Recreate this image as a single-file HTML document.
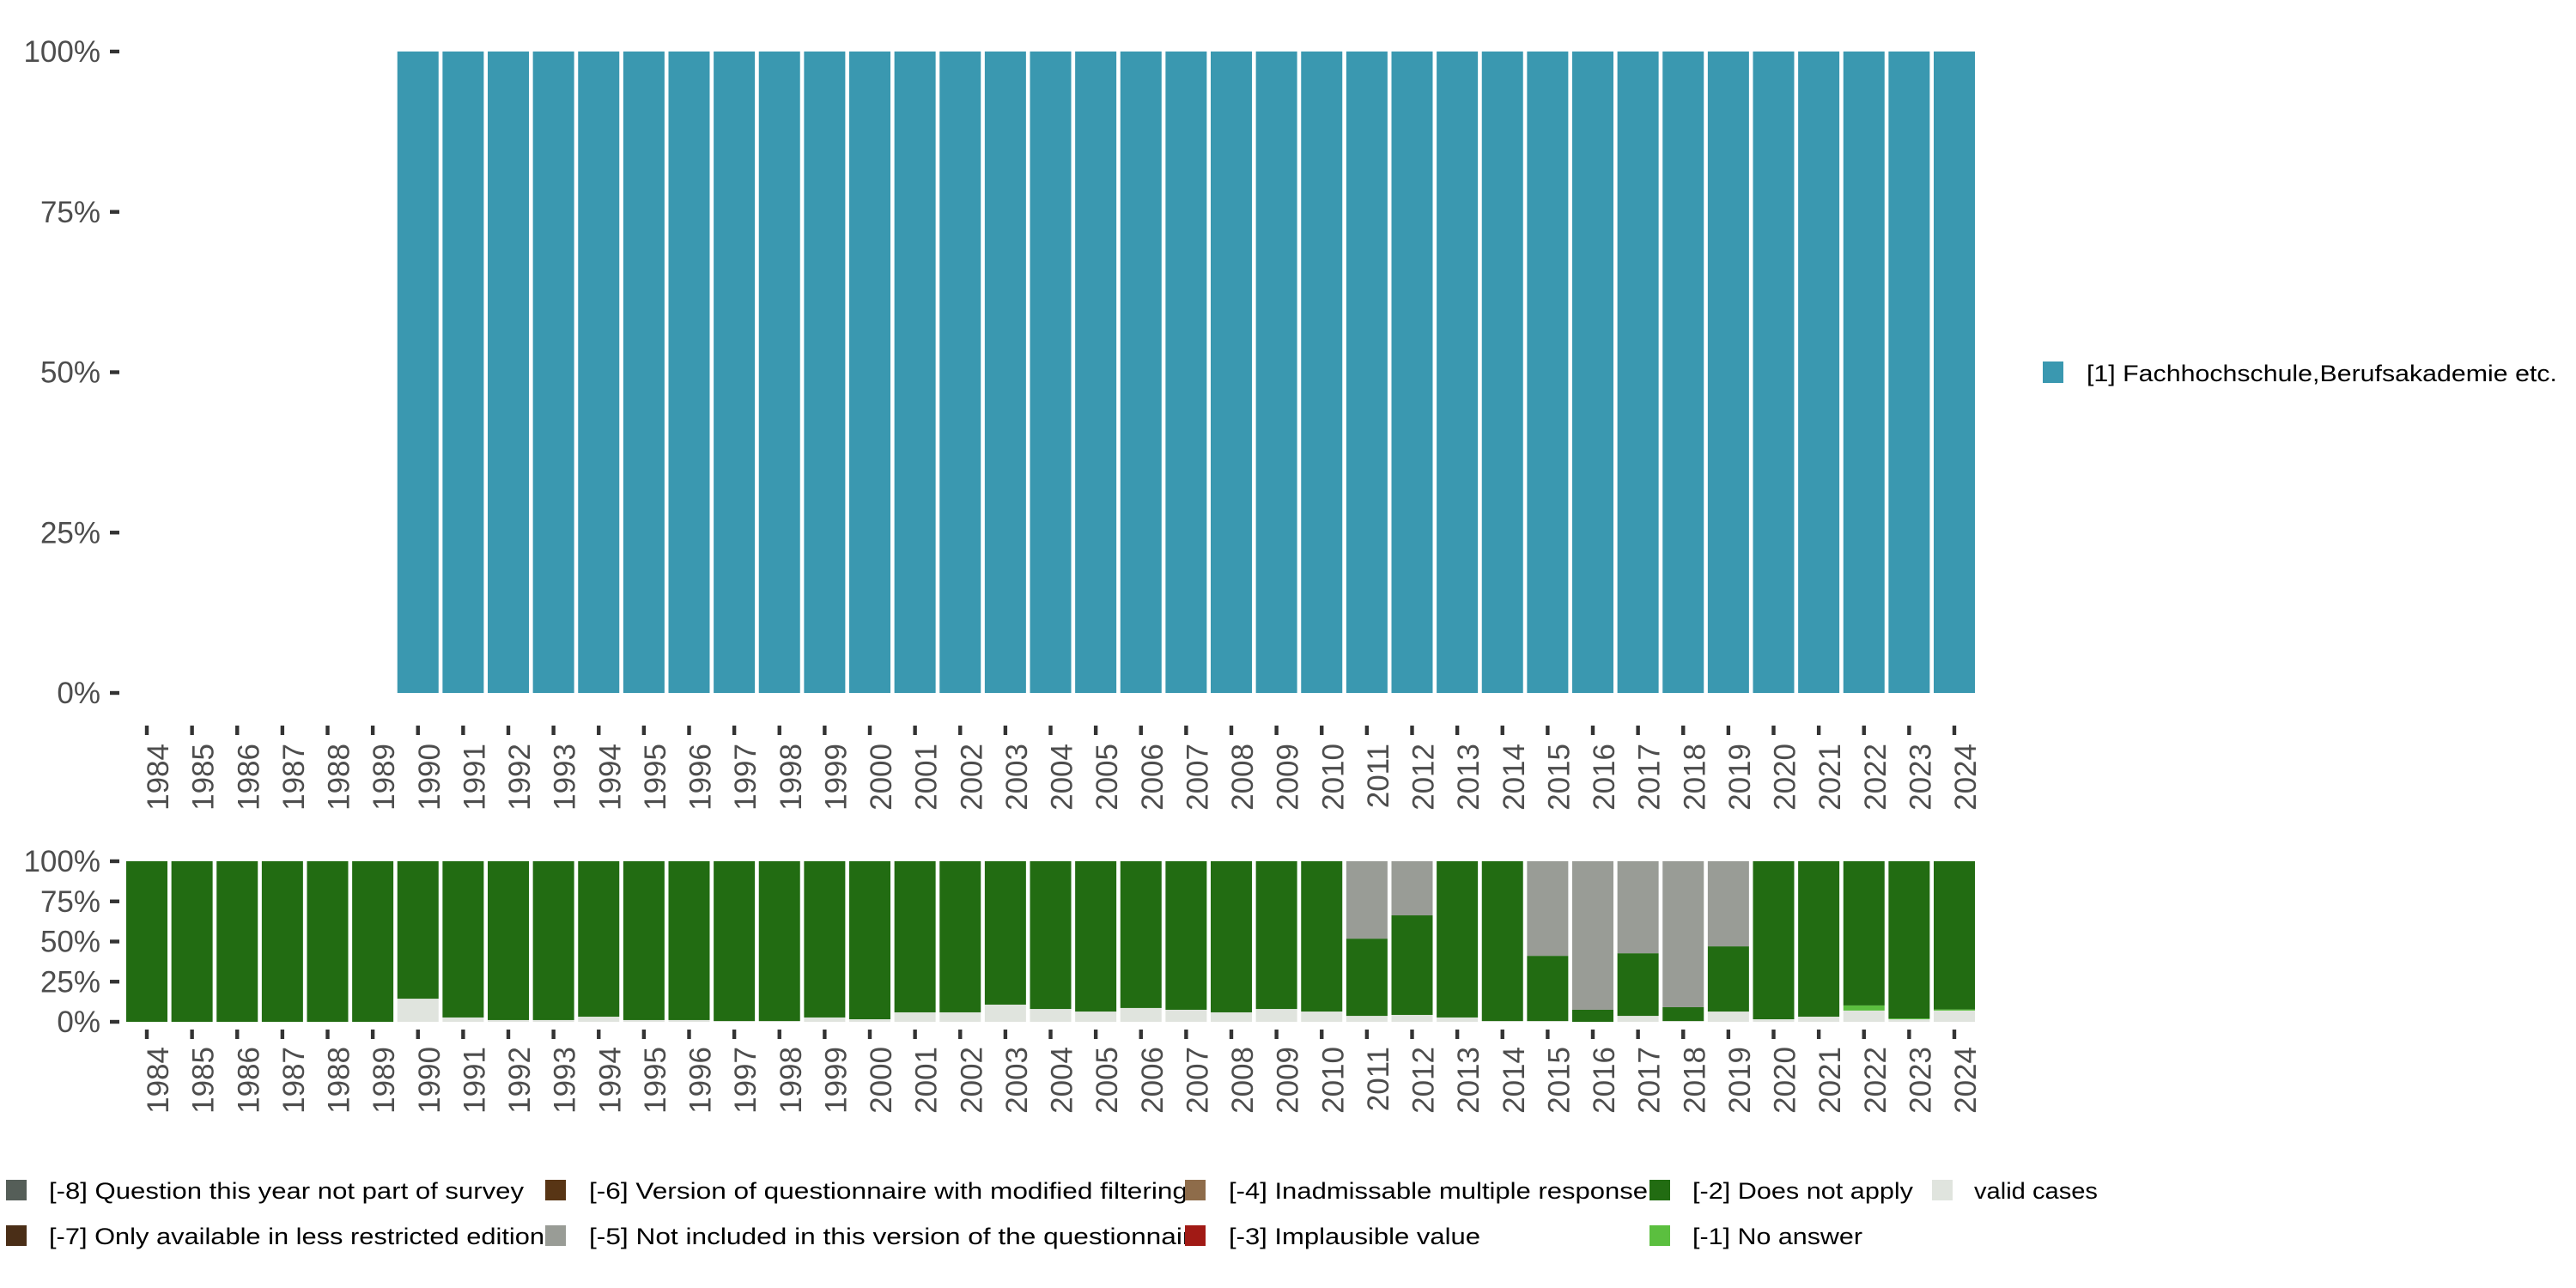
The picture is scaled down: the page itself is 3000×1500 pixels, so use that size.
<!DOCTYPE html>
<html><head><meta charset="utf-8"><style>
html,body{margin:0;padding:0;background:#fff;}
svg{display:block;font-family:"Liberation Sans",sans-serif;}
</style></head><body>
<svg id="chart" width="3000" height="1500" viewBox="0 0 3000 1500" xmlns="http://www.w3.org/2000/svg">
<g id="top-panel"></g>
<g id="bottom-panel"></g>
<g id="top-legend"></g>
<g id="bottom-legend"></g>
</svg>
<script>
const years = [1984,1985,1986,1987,1988,1989,1990,1991,1992,1993,1994,1995,1996,1997,1998,1999,2000,2001,2002,2003,2004,2005,2006,2007,2008,2009,2010,2011,2012,2013,2014,2015,2016,2017,2018,2019,2020,2021,2022,2023,2024];
// top chart: share of [1] Fachhochschule per year (null = no bar)
const topValues = [null,null,null,null,null,null,100,100,100,100,100,100,100,100,100,100,100,100,100,100,100,100,100,100,100,100,100,100,100,100,100,100,100,100,100,100,100,100,100,100,100];
// bottom chart series (percent), stacked from bottom: valid, no answer, does not apply, not included
const validCases = [0,0,0,0,0,0,14.4,2.7,1.1,1.1,3.2,1.1,1.1,0.5,0.5,2.7,1.6,5.9,5.9,10.7,8.0,6.4,8.6,7.5,5.9,8.0,6.4,3.7,4.3,2.7,0.5,0.5,0,3.7,0.5,6.4,1.6,3.2,7.0,1.6,7.0];
const noAnswer = [0,0,0,0,0,0,0,0,0,0,0,0,0,0,0,0,0,0,0,0,0,0,0,0,0,0,0,0,0,0,0,0,0,0,0,0,0,0,3.2,0.5,0.7];
const notIncluded = [0,0,0,0,0,0,0,0,0,0,0,0,0,0,0,0,0,0,0,0,0,0,0,0,0,0,0,48.2,33.7,0,0,58.9,92.5,57.3,90.9,53.0,0,0,0,0,0];
const yTicks = [0,25,50,75,100];
const yTickLabels = ["0%","25%","50%","75%","100%"];

const NS="http://www.w3.org/2000/svg";
function mk(tag, parent, attrs){const e=document.createElementNS(NS,tag);for(const k in attrs)e.setAttribute(k,attrs[k]);parent.appendChild(e);return e;}
const x0=171, step=52.625, bw=48;
function xc(i){return x0+i*step;}
function yTop(v){return 807-(v/100)*(807-60);}
function yBot(v){return 1190-(v/100)*(1190-1003);}
const C={valid:"#e0e4de",na:"#5bbf3f",dna:"#226c12",ni:"#999c96",blue:"#3a98b0"};

function axes(g, yf, tickYTop, labelY, prefix){
  yTicks.forEach((t,k)=>{
    const y=yf(t);
    const tk=mk('rect',g,{x:128,y:y-2.2,width:11,height:4.4,fill:'#333'});
    
    
    const tx=mk('text',g,{x:117,y:y+12,'text-anchor':'end','font-size':35,fill:'#4d4d4d'});
    tx.textContent=yTickLabels[k];
    
    
  });
  years.forEach((yr,i)=>{
    const x=xc(i);
    const tk=mk('rect',g,{x:x-2.2,y:tickYTop,width:4.4,height:11,fill:'#333'});
    
    
    const tx=mk('text',g,{x:0,y:0,'text-anchor':'end','font-size':35,fill:'#4d4d4d',transform:`translate(${x+25},${labelY}) rotate(-90)`});
    tx.textContent=String(yr);
    
    
  });
}

const gt=document.getElementById('top-panel');
years.forEach((yr,i)=>{
  const v=topValues[i]; if(v==null) return;
  const r=mk('rect',gt,{x:xc(i)-bw/2,y:yTop(v),width:bw,height:yTop(0)-yTop(v),fill:C.blue});
  
  
});
axes(gt,yTop,845,866,'top');

const gb=document.getElementById('bottom-panel');
years.forEach((yr,i)=>{
  const dna=100-validCases[i]-noAnswer[i]-notIncluded[i];
  const segs=[[validCases[i],C.valid,'valid'],[noAnswer[i],C.na,'no-answer'],[dna,C.dna,'does-not-apply'],[notIncluded[i],C.ni,'not-included']];
  let acc=0;
  segs.forEach(s=>{
    if(s[0]<=0){return;}
    const r=mk('rect',gb,{x:xc(i)-bw/2,y:yBot(acc+s[0]),width:bw,height:yBot(acc)-yBot(acc+s[0]),fill:s[1]});
    
    
    acc+=s[0];
  });
});
axes(gb,yBot,1199,1219,'bottom');

const gl=document.getElementById('top-legend');
const ls=mk('rect',gl,{x:2379,y:421,width:24,height:25,fill:C.blue});


const lt=mk('text',gl,{x:2430,y:444,'font-size':27,fill:'#000',textLength:548,lengthAdjust:'spacingAndGlyphs'});
lt.textContent='[1] Fachhochschule,Berufsakademie etc.';



const legItems=[
 [7,57,1374,'#555e58','[-8] Question this year not part of survey',553],
 [635,686,1374,'#583515','[-6] Version of questionnaire with modified filtering',697],
 [1380,1431,1374,'#8e6c4a','[-4] Inadmissable multiple response',488],
 [1921,1971,1374,C.dna,'[-2] Does not apply',257],
 [2250,2299,1374,C.valid,'valid cases',144],
 [7,57,1427,'#4a2e17','[-7] Only available in less restricted edition',577],
 [635,686,1427,C.ni,'[-5] Not included in this version of the questionnaire',719],
 [1380,1431,1427,'#a11a15','[-3] Implausible value',293],
 [1921,1971,1427,C.na,'[-1] No answer',198]
];
const gbl=document.getElementById('bottom-legend');
legItems.forEach(it=>{
  const t=mk('text',gbl,{x:it[1],y:it[2]+22,'font-size':27,fill:'#000',textLength:it[5],lengthAdjust:'spacingAndGlyphs'});
  t.textContent=it[4];
  
  
});
legItems.forEach(it=>{
  const s=mk('rect',gbl,{x:it[0],y:it[2],width:24,height:24,fill:it[3]});
  
  
});
</script>
</body></html>
